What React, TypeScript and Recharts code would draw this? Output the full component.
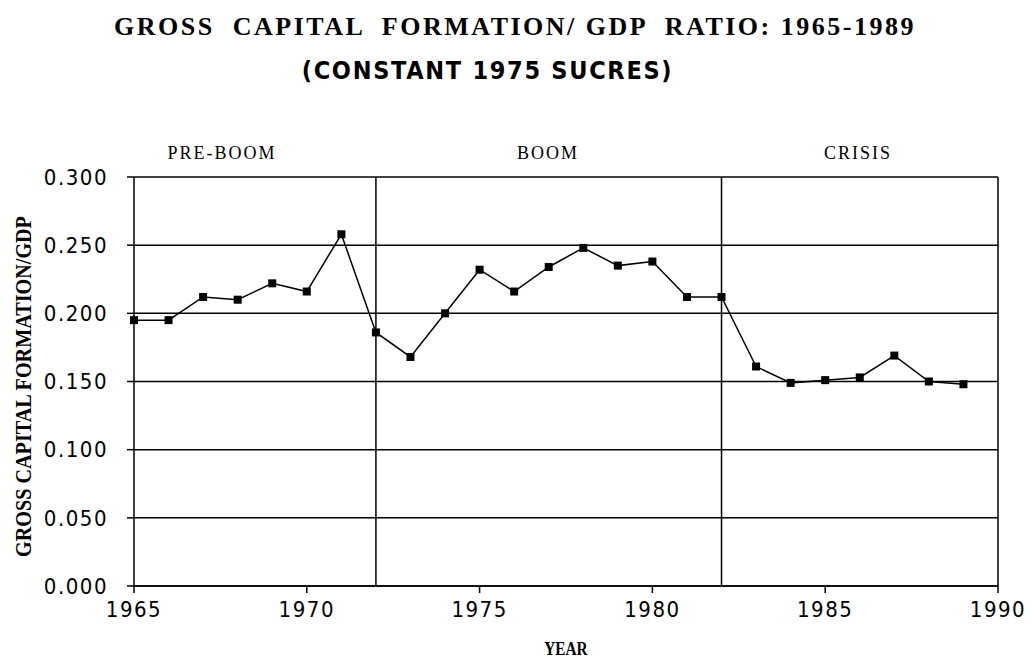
import React from "react";
import { LineChart, Line, XAxis, YAxis, CartesianGrid, ReferenceLine } from "recharts";

const years = [
  1965, 1966, 1967, 1968, 1969, 1970, 1971, 1972, 1973, 1974, 1975, 1976, 1977,
  1978, 1979, 1980, 1981, 1982, 1983, 1984, 1985, 1986, 1987, 1988, 1989,
];
const ratio = [
  0.195, 0.195, 0.212, 0.21, 0.222, 0.216, 0.258, 0.186, 0.168, 0.2, 0.232, 0.216, 0.234,
  0.248, 0.235, 0.238, 0.212, 0.212, 0.161, 0.149, 0.151, 0.153, 0.169, 0.15, 0.148,
];
const xTicks = [1965, 1970, 1975, 1980, 1985, 1990];
const yTicks = [0, 0.05, 0.1, 0.15, 0.2, 0.25, 0.3];
const periodBreaks = [1972, 1982];
const periods = ["PRE-BOOM", "BOOM", "CRISIS"];

const data = years.map((year, i) => ({ year, ratio: ratio[i] }));

const tickFont = {
  fill: "#000",
  fontFamily: "'DejaVu Sans Condensed', 'DejaVu Sans', sans-serif",
  fontSize: 22,
  letterSpacing: 1.5,
};

const serif = "'Liberation Serif', 'DejaVu Serif', serif";

const SquareDot = (props: any) => {
  const { cx, cy, index } = props;
  if (cx == null || cy == null) return null;
  return <rect key={"d" + index} x={cx - 4} y={cy - 4} width={8} height={8} fill="#000" />;
};

export default function App() {
  const periodLeft = [222, 548, 858];
  return (
    <div style={{ position: "absolute", left: 0, top: 0, width: 1031, height: 668, background: "#fff" }}>
      <div
        style={{
          position: "absolute",
          left: 0,
          width: 1030,
          top: 12,
          textAlign: "center",
          fontFamily: serif,
          fontWeight: 700,
          fontSize: 26,
          letterSpacing: 2.5,
          whiteSpace: "pre",
        }}
      >
        {"GROSS  CAPITAL  FORMATION/ GDP  RATIO: 1965-1989"}
      </div>
      <div
        style={{
          position: "absolute",
          left: 0,
          width: 975,
          top: 56,
          textAlign: "center",
          fontFamily: "'DejaVu Sans Condensed', 'DejaVu Sans', sans-serif",
          fontWeight: 700,
          fontSize: 25,
          letterSpacing: 1.7,
          whiteSpace: "pre",
        }}
      >
        {"(CONSTANT 1975 SUCRES)"}
      </div>
      {periods.map((p, i) => (
        <div
          key={p}
          style={{
            position: "absolute",
            left: periodLeft[i] - 100,
            width: 200,
            top: 143,
            textAlign: "center",
            fontFamily: serif,
            fontSize: 18,
            letterSpacing: 2,
          }}
        >
          {p}
        </div>
      ))}
      <div
        style={{
          position: "absolute",
          left: 23 - 250,
          width: 500,
          top: 373,
          textAlign: "center",
          fontFamily: serif,
          fontWeight: 700,
          fontSize: 24,
          transform: "rotate(-90deg) scaleX(0.84)",
          whiteSpace: "pre",
        }}
      >
        GROSS CAPITAL FORMATION/GDP
      </div>
      <div
        style={{
          position: "absolute",
          left: 466,
          width: 200,
          top: 639,
          textAlign: "center",
          fontFamily: serif,
          fontWeight: 700,
          fontSize: 18,
          transform: "scaleX(0.85)",
        }}
      >
        YEAR
      </div>
      <div style={{ position: "absolute", left: 0, top: 0 }}>
        <LineChart
          width={1031}
          height={668}
          data={data}
          margin={{ top: 177, right: 33, bottom: 42, left: 74 }}
        >
          <CartesianGrid vertical={false} stroke="#000" strokeWidth={1.5} />
          <XAxis
            dataKey="year"
            type="number"
            domain={[1965, 1990]}
            ticks={xTicks}
            height={40}
            tickSize={7}
            tickMargin={8}
            tick={tickFont}
            stroke="#000"
            strokeWidth={1.5}
            tickLine={{ stroke: "#000", strokeWidth: 1.5 }}
            interval={0}
          />
          <YAxis
            type="number"
            domain={[0, 0.3]}
            ticks={yTicks}
            width={60}
            tickSize={7}
            tickMargin={19}
            tick={tickFont}
            tickFormatter={(v: number) => v.toFixed(3)}
            stroke="#000"
            strokeWidth={1.5}
            tickLine={{ stroke: "#000", strokeWidth: 1.5 }}
            interval={0}
          />
          {periodBreaks.map((x) => (
            <ReferenceLine key={x} x={x} stroke="#000" strokeWidth={1.5} />
          ))}
          <ReferenceLine x={1990} stroke="#000" strokeWidth={1.5} />
          <Line
            type="linear"
            dataKey="ratio"
            stroke="#000"
            strokeWidth={1.5}
            dot={SquareDot}
            activeDot={false}
            isAnimationActive={false}
          />
        </LineChart>
      </div>
    </div>
  );
}
